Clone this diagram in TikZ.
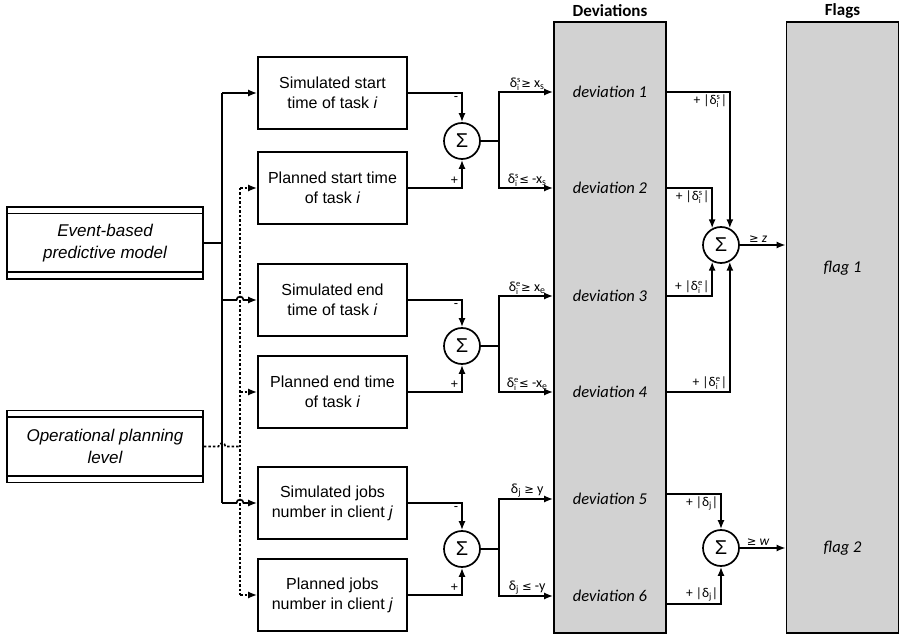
\documentclass[tikz,border=0pt]{standalone}
\usepackage{fontspec}
\setmainfont{Liberation Sans}
\newfontfamily\calfont{Carlito}
\newfontfamily\symfont{DejaVu Sans}
\usetikzlibrary{arrows.meta,calc}
% delta with stacked sub- and superscript
\newcommand\scr[1]{{\fontsize{8.5}{8.5}\selectfont #1}}
\newcommand\dlt[2]{δ\rlap{\raisebox{-2.6pt}{\scr{#1}}}\raisebox{5.4pt}{\scr{#2}}\kern0.8pt}
\newcommand\gesym{{\symfont\fontsize{11.5}{11.5}\selectfont ≥}}
\newcommand\lesym{{\symfont\fontsize{11.5}{11.5}\selectfont ≤}}
\tikzset{
  wire/.style={line width=1.7pt},
  arr/.style={wire,-{Latex[length=9pt,width=7pt]}},
  dsh/.style={line width=1.6pt,dash pattern=on 2.5pt off 2pt},
  darr/.style={dsh,-{Latex[length=9pt,width=7pt]}},
  block/.style={draw,line width=1.7pt,minimum width=149pt,minimum height=72pt,
    align=center,inner sep=0pt,font=\fontsize{16}{20}\selectfont},
  source/.style={draw,line width=1.7pt,minimum width=196pt,minimum height=72pt,
    align=center,inner sep=0pt,font=\fontsize{17}{22}\selectfont\itshape},
  sumnode/.style={draw,circle,line width=1.7pt,minimum size=36pt,inner sep=0pt,
    font=\fontsize{20}{20}\selectfont},
  column/.style={draw,line width=1.7pt,fill=gray!35,minimum width=112pt,
    minimum height=611pt,inner sep=0pt},
  devlab/.style={font=\calfont\itshape\fontsize{16.5}{18}\selectfont},
  head/.style={font=\calfont\bfseries\fontsize{17}{18}\selectfont},
  cond/.style={font=\calfont\fontsize{14}{14}\selectfont,inner sep=1pt},
  term/.style={font=\calfont\fontsize{13.5}{14}\selectfont,inner sep=2pt},
  sgn/.style={font=\fontsize{13}{13}\selectfont,inner sep=3pt},
  hop/.style={to path={-- ([xshift=-3.5pt]#1)
      .. controls ([xshift=-3.5pt,yshift=4.5pt]#1) and ([xshift=3.5pt,yshift=4.5pt]#1)
      .. ([xshift=3.5pt]#1) -- (\tikztotarget)}}
}
\begin{document}
\begin{tikzpicture}[x=1pt,y=-1pt]
\useasboundingbox (0,0) rectangle (900,636);

% sources
\node[source] (ebm) at (105,243) {Event-based\\predictive model};
\node[source] (opl) at (105,446.5) {Operational planning\\level};
\foreach \n in {ebm,opl}{
  \draw[wire] ([yshift=-7.5pt]\n.north west) -- ([yshift=-7.5pt]\n.north east);
  \draw[wire] ([yshift=7.5pt]\n.south west) -- ([yshift=7.5pt]\n.south east);
}

% input blocks
\node[block] (ss) at (332.5,93)  {Simulated start\\time of task \textit{i}};
\node[block] (ps) at (332.5,188) {Planned start time\\of task \textit{i}};
\node[block] (se) at (332.5,300) {Simulated end\\time of task \textit{i}};
\node[block] (pe) at (332.5,392) {Planned end time\\of task \textit{i}};
\node[block] (sj) at (332.5,503) {Simulated jobs\\number in client \textit{j}};
\node[block] (pj) at (332.5,595) {Planned jobs\\number in client \textit{j}};

% distribution trunks
\coordinate (tx) at (222,0);
\coordinate (dx) at (240,0);
\draw[wire] (ebm.east) -- (ebm.east -| tx);
\draw[wire] (ss.west -| tx) -- (sj.west -| tx);
\draw[arr] (ss.west -| tx) -- (ss.west);
\draw[arr] (se.west -| tx) to[hop={se.west -| dx}] (se.west);
\draw[arr] (sj.west -| tx) to[hop={sj.west -| dx}] (sj.west);
\draw[dsh] (opl.east) to[hop={opl.east -| tx}] (opl.east -| dx);
\draw[dsh] (ps.west -| dx) -- (pj.west -| dx);
\draw[darr] (ps.west -| dx) -- (ps.west);
\draw[darr] (pe.west -| dx) -- (pe.west);
\draw[darr] (pj.west -| dx) -- (pj.west);

% difference nodes
\node[sumnode] (s1) at (462,141) {Σ};
\node[sumnode] (s2) at (462,346) {Σ};
\node[sumnode] (s3) at (462,549) {Σ};
\draw[arr] (ss.east) -| (s1.north) node[sgn,pos=0.5,below left] {-};
\draw[arr] (ps.east) -| (s1.south) node[sgn,pos=0.5,above left] {+};
\draw[arr] (se.east) -| (s2.north) node[sgn,pos=0.5,below left] {-};
\draw[arr] (pe.east) -| (s2.south) node[sgn,pos=0.5,above left] {+};
\draw[arr] (sj.east) -| (s3.north) node[sgn,pos=0.5,below left] {-};
\draw[arr] (pj.east) -| (s3.south) node[sgn,pos=0.5,above left] {+};

% columns
\node[column] (dev) at (610,327.5) {};
\node[column] (flg) at (842.5,327.5) {};
\node[head] at (610,11) {Deviations};
\node[head] at (842.5,11) {Flags};
\node[devlab] (d1) at (610,92)  {deviation 1};
\node[devlab] (d2) at (610,188) {deviation 2};
\node[devlab] (d3) at (610,296) {deviation 3};
\node[devlab] (d4) at (610,392) {deviation 4};
\node[devlab] (d5) at (610,499) {deviation 5};
\node[devlab] (d6) at (610,596) {deviation 6};
\node[devlab] (f1) at (842.5,268) {flag 1};
\node[devlab] (f2) at (842.5,548) {flag 2};

% thresholds
\coordinate (bx) at (499,0);
\draw[wire] (s1.east) -- (s1.east -| bx);
\draw[wire] (s2.east) -- (s2.east -| bx);
\draw[wire] (s3.east) -- (s3.east -| bx);
\draw[arr] (s1.east -| bx) |- (d1 -| dev.west) node[cond,pos=0.76,above] {\dlt{i}{s} \gesym{} x\textsubscript{s}};
\draw[arr] (s1.east -| bx) |- (d2 -| dev.west) node[cond,pos=0.76,above] {\dlt{i}{s} \lesym{} -x\textsubscript{s}};
\draw[arr] (s2.east -| bx) |- (d3 -| dev.west) node[cond,pos=0.76,above] {\dlt{i}{e} \gesym{} x\textsubscript{e}};
\draw[arr] (s2.east -| bx) |- (d4 -| dev.west) node[cond,pos=0.76,above] {\dlt{i}{e} \lesym{} -x\textsubscript{e}};
\draw[arr] (s3.east -| bx) |- (d5 -| dev.west) node[cond,pos=0.76,above] {δ\textsubscript{j} \gesym{} y};
\draw[arr] (s3.east -| bx) |- (d6 -| dev.west) node[cond,pos=0.76,above] {δ\textsubscript{j} \lesym{} -y};

% flag sums
\node[sumnode] (s4) at (721,245) {Σ};
\node[sumnode] (s5) at (721,548) {Σ};
\draw[arr] (d1 -| dev.east) -| (s4.62)  node[term,pos=0.5,below left] {+ |\dlt{i}{s}|};
\draw[arr] (d2 -| dev.east) -| (s4.118) node[term,pos=0.5,below left] {+ |\dlt{i}{s}|};
\draw[arr] (d3 -| dev.east) -| (s4.242) node[term,pos=0.5,above left] {+ |\dlt{i}{e}|};
\draw[arr] (d4 -| dev.east) -| (s4.298) node[term,pos=0.5,above left] {+ |\dlt{i}{e}|};
\draw[arr] ([yshift=5pt]d5.east -| dev.east) -| (s5.north) node[term,pos=0.5,below left] {+ |δ\textsubscript{j}|};
\draw[arr] ([yshift=-8pt]d6.east -| dev.east) -| (s5.south) node[term,pos=0.5,above left] {+ |δ\textsubscript{j}|};
\draw[arr] (s4.east) -- (s4.east -| flg.west) node[term,pos=0.4,above] {\gesym{} \textit{z}};
\draw[arr] (s5.east) -- (s5.east -| flg.west) node[term,pos=0.4,above] {\gesym{} \textit{w}};
\end{tikzpicture}
\end{document}
